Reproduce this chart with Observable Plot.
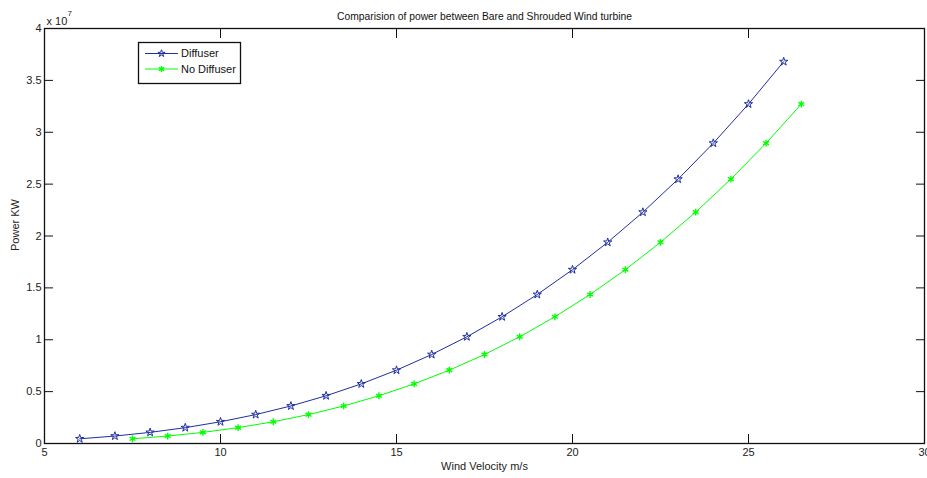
<!DOCTYPE html>
<html>
<head>
<meta charset="utf-8">
<script src="https://cdn.jsdelivr.net/npm/d3@7"></script>
<script src="https://cdn.jsdelivr.net/npm/@observablehq/plot@0.6"></script>
<style>
  html, body { margin: 0; padding: 0; background: #fff; }
  #chart svg { display: block; }
</style>
</head>
<body>
<div id="chart"></div>
<script>
// ---- data ----
const xTicks = [5, 10, 15, 20, 25, 30];
const yTicks = [0, 0.5e7, 1e7, 1.5e7, 2e7, 2.5e7, 3e7, 3.5e7, 4e7];
const yTickLabels = ["0", "0.5", "1", "1.5", "2", "2.5", "3", "3.5", "4"];

const diffuserV = [6, 7, 8, 9, 10, 11, 12, 13, 14, 15, 16, 17, 18, 19, 20, 21, 22, 23, 24, 25, 26];
const diffuserP = [452000, 718000, 1072000, 1527000, 2094000, 2787000, 3618000, 4600000, 5746000, 7067000,
  8577000, 10288000, 12212000, 14363000, 16752000, 19393000, 22297000, 25478000, 28948000, 32719000, 36804000];

const noDiffV = [7.5, 8.5, 9.5, 10.5, 11.5, 12.5, 13.5, 14.5, 15.5, 16.5, 17.5, 18.5, 19.5, 20.5, 21.5, 22.5, 23.5, 24.5, 25.5, 26.5];
const noDiffP = [452000, 718000, 1072000, 1527000, 2094000, 2787000, 3618000, 4600000, 5746000, 7067000,
  8577000, 10288000, 12212000, 14363000, 16752000, 19393000, 22297000, 25478000, 28948000, 32719000];

const seriesNames = ["Diffuser", "No Diffuser"];
const blue = "#1f2f9f";
const green = "#00ff00";

const titleText = "Comparision of power between Bare and Shrouded Wind turbine";
const xLabel = "Wind Velocity m/s";
const yLabel = "Power KW";

const diffuser = diffuserV.map((v, i) => ({v, p: diffuserP[i]}));
const noDiff = noDiffV.map((v, i) => ({v, p: noDiffP[i]}));

const font = "'Liberation Sans', Arial, Helvetica, sans-serif";

const chart = Plot.plot({
  width: 927,
  height: 478,
  marginLeft: 44,
  marginRight: 3,
  marginTop: 28,
  marginBottom: 35,
  style: {fontFamily: font, fontSize: "11px", color: "#222", background: "#fff"},
  x: {domain: [5, 30]},
  y: {domain: [0, 4e7]},
  marks: [
    // inward ticks on all four sides
    Plot.axisX(xTicks, {anchor: "bottom", tickSize: -9, tickFormat: () => "", label: null, stroke: "#111"}),
    Plot.axisX(xTicks, {anchor: "top", tickSize: -9, tickFormat: () => "", label: null, stroke: "#111"}),
    Plot.axisY(yTicks, {anchor: "left", tickSize: -9, tickFormat: () => "", label: null, stroke: "#111"}),
    Plot.axisY(yTicks, {anchor: "right", tickSize: -9, tickFormat: () => "", label: null, stroke: "#111"}),
    // tick labels
    Plot.axisX(xTicks, {anchor: "bottom", tickSize: 0, tickPadding: 5, label: null, fill: "#222"}),
    Plot.axisY(yTicks, {anchor: "left", tickSize: 0, tickPadding: 3, label: null, fill: "#222",
      tickFormat: (d) => yTickLabels[yTicks.indexOf(d)]}),
    Plot.frame({stroke: "#111", strokeWidth: 1.3}),
    // series
    Plot.line(diffuser, {x: "v", y: "p", stroke: blue, strokeWidth: 1}),
    Plot.dot(diffuser, {x: "v", y: "p", symbol: "star", stroke: blue, fill: "none", r: 2.6, strokeWidth: 1}),
    Plot.line(noDiff, {x: "v", y: "p", stroke: green, strokeWidth: 1}),
    Plot.dot(noDiff, {x: "v", y: "p", symbol: "asterisk", stroke: green, r: 3.2, strokeWidth: 1.4}),
    // texts
    Plot.text([titleText], {frameAnchor: "top", dy: -16, fontSize: 10.3, fill: "#111"}),
    Plot.text([xLabel], {frameAnchor: "bottom", dy: 26, fontSize: 11, fill: "#222"}),
    Plot.text([yLabel], {frameAnchor: "left", dx: -29, dy: 15, rotate: -90, fontSize: 11, fill: "#222"}),
    Plot.text(["x 10"], {frameAnchor: "top-left", textAnchor: "start", dx: 2, dy: -11, fontSize: 11, fill: "#222"}),
    Plot.text(["7"], {frameAnchor: "top-left", textAnchor: "start", dx: 23, dy: -18, fontSize: 8, fill: "#222"})
  ]
});

document.getElementById("chart").appendChild(chart);

// ---- legend box (drawn inside the SVG) ----
const svg = d3.select(chart);
const lg = svg.append("g").attr("font-family", font).attr("font-size", 11).attr("text-anchor", "start");
lg.append("rect").attr("x", 138.5).attr("y", 42.5).attr("width", 102).attr("height", 41)
  .attr("fill", "#fff").attr("stroke", "#111").attr("stroke-width", 1.3);
const rows = [
  {name: seriesNames[0], color: blue, sym: d3.symbolStar, size: 16, sw: 1, y: 53.5},
  {name: seriesNames[1], color: green, sym: d3.symbolAsterisk, size: 26, sw: 1.4, y: 69}
];
rows.forEach(r => {
  lg.append("line").attr("x1", 145).attr("x2", 178).attr("y1", r.y).attr("y2", r.y)
    .attr("stroke", r.color).attr("stroke-width", 1);
  lg.append("path").attr("transform", `translate(161.5,${r.y})`)
    .attr("d", d3.symbol(r.sym, r.size)())
    .attr("fill", "none").attr("stroke", r.color).attr("stroke-width", r.sw);
  lg.append("text").attr("x", 181).attr("y", r.y).attr("dy", "0.35em").attr("fill", "#111").text(r.name);
});
</script>
</body>
</html>
